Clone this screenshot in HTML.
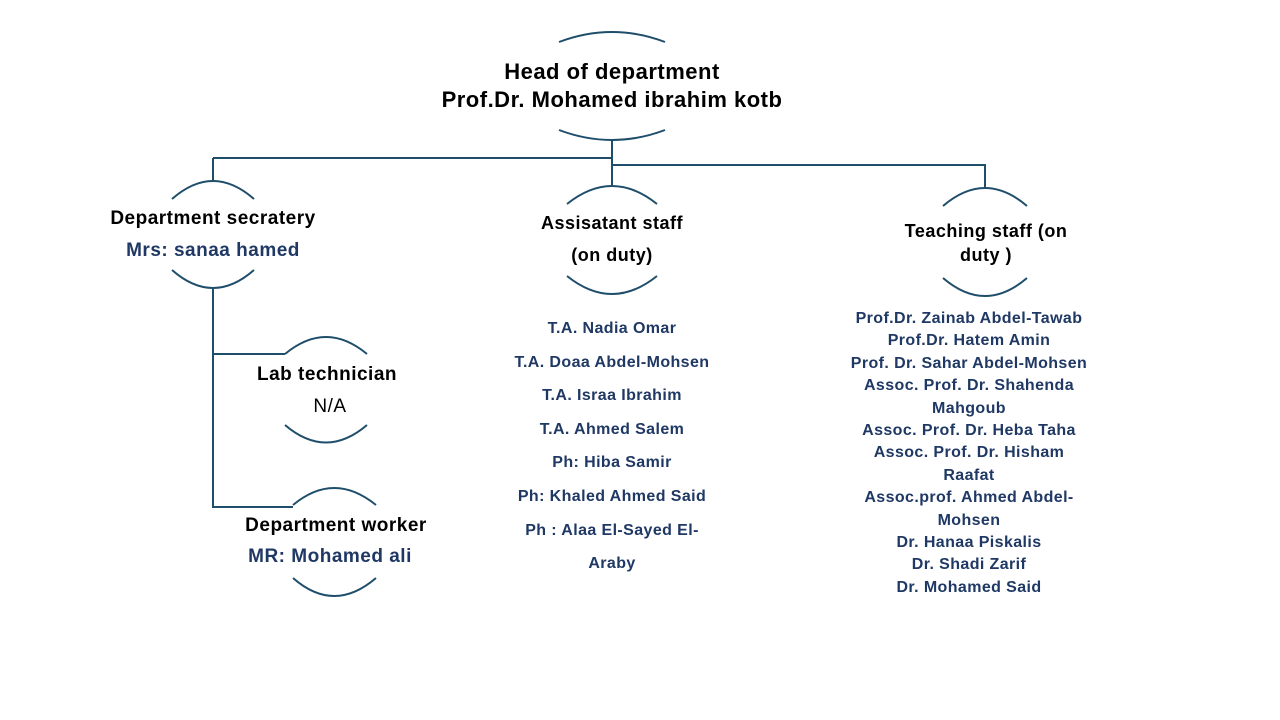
<!DOCTYPE html>
<html><head><style>
body{margin:0;width:1280px;height:720px;background:#fff;position:relative;overflow:hidden;font-family:"Liberation Sans",sans-serif}
.t{position:absolute;text-align:center;font-weight:bold;color:#000;white-space:nowrap;letter-spacing:0.5px}
.b{color:#1f3864}
.l{position:absolute;text-align:center;font-weight:bold;color:#1f3864;font-size:16px;letter-spacing:0.4px;white-space:nowrap}
</style></head><body>
<svg width="1280" height="720" style="position:absolute;left:0;top:0" fill="none" stroke="#1f4e6b" stroke-width="2">
<path d="M559 42 Q612 22 665 42"/><path d="M559 130 Q612 150 665 130"/>
<path d="M612 140 V186 M213 158 H612 M612 165 H985 V188 M213 158 V181"/>
<path d="M172 199 Q213 163 254 199"/><path d="M172 270 Q213 306 254 270"/>
<path d="M213 289 V507 H293 M213 354 H285"/>
<path d="M285 354 Q326 320 367 354"/><path d="M285 425 Q326 460 367 425"/>
<path d="M293 505 Q334 471 376 505"/><path d="M293 578 Q334 614 376 578"/>
<path d="M567 204 Q612 168 657 204"/><path d="M567 276 Q612 312 657 276"/>
<path d="M943 206 Q985 170 1027 206"/><path d="M943 278 Q985 314 1027 278"/>
</svg>
<div class="t" style="left:362px;top:58px;width:500px;font-size:22px;line-height:28px">Head of department<br>Prof.Dr. Mohamed ibrahim kotb</div>
<div class="t" style="left:63px;top:208px;width:300px;font-size:19px">Department secratery</div>
<div class="t b" style="left:63px;top:240px;width:300px;font-size:19px">Mrs: sanaa hamed</div>
<div class="t" style="left:177px;top:364px;width:300px;font-size:19px">Lab technician</div>
<div class="t" style="left:180px;top:396px;width:300px;font-size:19px;font-weight:normal">N/A</div>
<div class="t" style="left:186px;top:515px;width:300px;font-size:19px">Department worker</div>
<div class="t b" style="left:180px;top:546px;width:300px;font-size:19px">MR: Mohamed ali</div>
<div class="t" style="left:462px;top:213px;width:300px;font-size:18px">Assisatant staff</div>
<div class="t" style="left:462px;top:245px;width:300px;font-size:18px">(on duty)</div>
<div class="t" style="left:836px;top:219px;width:300px;font-size:18px;line-height:24px">Teaching staff (on<br>duty )</div>
<div class="l" style="left:462px;top:312px;width:300px;line-height:33.6px">T.A. Nadia Omar<br>T.A. Doaa Abdel-Mohsen<br>T.A. Israa Ibrahim<br>T.A. Ahmed Salem<br>Ph: Hiba Samir<br>Ph: Khaled Ahmed Said<br>Ph : Alaa El-Sayed El-<br>Araby</div>
<div class="l" style="left:819px;top:308px;width:300px;line-height:22.4px">Prof.Dr. Zainab Abdel-Tawab<br>Prof.Dr. Hatem Amin<br>Prof. Dr. Sahar Abdel-Mohsen<br>Assoc. Prof. Dr. Shahenda<br>Mahgoub<br>Assoc. Prof. Dr. Heba Taha<br>Assoc. Prof. Dr. Hisham<br>Raafat<br>Assoc.prof. Ahmed Abdel-<br>Mohsen<br>Dr. Hanaa Piskalis<br>Dr. Shadi Zarif<br>Dr. Mohamed Said</div>
</body></html>
